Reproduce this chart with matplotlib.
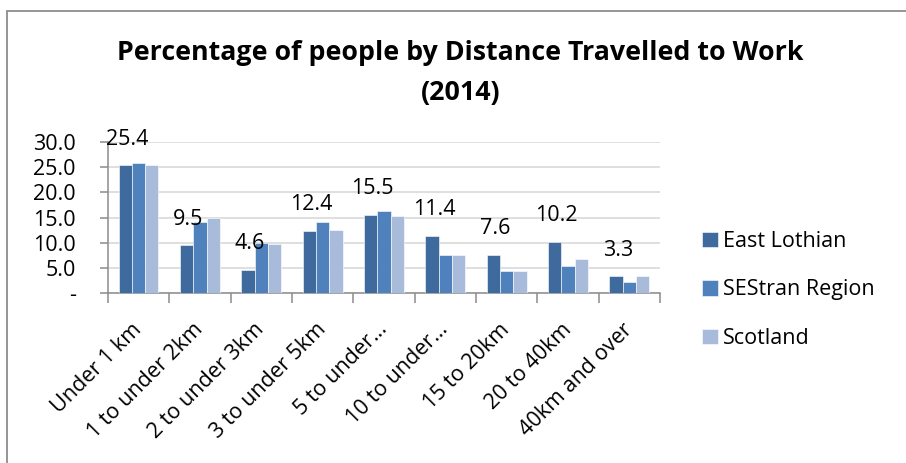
import matplotlib

matplotlib.use("Agg")
import matplotlib.pyplot as plt
from matplotlib.patches import Rectangle
import numpy as np

CATEGORIES = [
    "Under 1 km",
    "1 to under 2km",
    "2 to under 3km",
    "3 to under 5km",
    "5 to under\u2026",
    "10 to under\u2026",
    "15 to 20km",
    "20 to 40km",
    "40km and over",
]
EAST_LOTHIAN = [25.4, 9.5, 4.6, 12.4, 15.5, 11.4, 7.6, 10.2, 3.3]
SESTRAN = [25.8, 14.1, 9.9, 14.2, 16.3, 7.5, 4.3, 5.4, 2.3]
SCOTLAND = [25.4, 14.9, 9.7, 12.6, 15.3, 7.5, 4.3, 6.7, 3.3]
SERIES_NAMES = ["East Lothian", "SEStran Region", "Scotland"]
Y_TICKS = [0, 5, 10, 15, 20, 25, 30]
Y_TICK_LABELS = ["-", "5.0", "10.0", "15.0", "20.0", "25.0", "30.0"]

COLORS = ["#3f6a9d", "#4f81bd", "#a9bbdb"]
FONT = ["Open Sans", "DejaVu Sans"]
FS = 15.5

plt.rcParams["font.family"] = FONT

fig = plt.figure(figsize=(9.06, 4.63), dpi=100)
ax = fig.add_axes([0.119, 0.367, 0.6095, 0.326])

x = np.arange(len(CATEGORIES))
width = 0.217
series = [EAST_LOTHIAN, SESTRAN, SCOTLAND]
for i, (values, name, color) in enumerate(zip(series, SERIES_NAMES, COLORS)):
    ax.bar(x + (i - 1) * width, values, width=width, color=color,
           edgecolor="white", linewidth=0.4, label=name, zorder=3)

# value labels for the East Lothian series only
for xi, v in zip(x, EAST_LOTHIAN):
    ax.text(xi - width + 0.03, v + 5.2, f"{v:.1f}", ha="center", va="center",
            fontsize=FS, color="black", zorder=4, clip_on=False)

ax.set_xlim(-0.5, len(CATEGORIES) - 0.5)
ax.set_ylim(0, 30)
ax.set_yticks(Y_TICKS)
ax.set_yticklabels(Y_TICK_LABELS, fontsize=FS)
ax.yaxis.grid(True, color="#d9d9d9", linewidth=1.2, zorder=0)
ax.set_axisbelow(True)

# category ticks sit on the boundaries between groups
ax.set_xticks(np.arange(len(CATEGORIES) + 1) - 0.5)
ax.set_xticklabels([])
ax.set_xticks(x, minor=True)
ax.set_xticklabels(CATEGORIES, minor=True, rotation=45, ha="right",
                   va="center", rotation_mode="anchor", fontsize=FS)
ax.tick_params(axis="x", which="minor", length=0, pad=24)
ax.tick_params(axis="x", which="major", length=7, width=1.1, color="#8c8c8c",
               direction="out")
ax.tick_params(axis="y", length=6, width=1.1, color="#8c8c8c", pad=17)

for side in ("top", "right"):
    ax.spines[side].set_visible(False)
for side in ("left", "bottom"):
    ax.spines[side].set_color("#8c8c8c")
    ax.spines[side].set_linewidth(1.1)

fig.text(0.508, 0.885, "Percentage of people by Distance Travelled to Work",
         ha="center", va="center", fontsize=19.3, fontweight="bold")
fig.text(0.508, 0.800, "(2014)", ha="center", va="center", fontsize=19.3,
         fontweight="bold")

leg = fig.legend(*ax.get_legend_handles_labels(), loc="center left",
                 bbox_to_anchor=(702 / 906, 1 - 290 / 463), frameon=False,
                 fontsize=FS, handlelength=0.72, handleheight=0.72,
                 handletextpad=0.25, labelspacing=1.28, borderpad=0,
                 borderaxespad=0)

# chart frame
fig.patches.append(Rectangle((7 / 906, -0.01), 1.0, 1 - 11 / 463 + 0.01,
                             transform=fig.transFigure, fill=False,
                             edgecolor="#8c8c8c", linewidth=1.3))

fig.savefig("out.png", dpi=100)
